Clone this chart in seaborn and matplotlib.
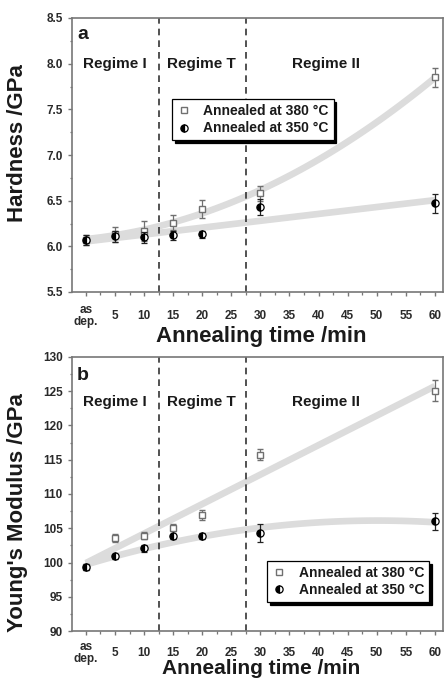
import numpy as np
import matplotlib
matplotlib.use("Agg")
import matplotlib.pyplot as plt
from matplotlib.ticker import MultipleLocator, FixedLocator
from matplotlib.lines import Line2D
import seaborn as sns

# ---------------- data ----------------
times = [0, 5, 10, 15, 20, 30, 60]
xtick_vals = [0, 5, 10, 15, 20, 25, 30, 35, 40, 45, 50, 55, 60]
xtick_labels = ["as\ndep.", "5", "10", "15", "20", "25", "30", "35", "40", "45", "50", "55", "60"]

hard_380 = [6.07, 6.13, 6.17, 6.26, 6.41, 6.58, 7.85]
hard_380_err = [0.05, 0.08, 0.11, 0.08, 0.10, 0.08, 0.10]
hard_350 = [6.07, 6.11, 6.10, 6.12, 6.13, 6.43, 6.47]
hard_350_err = [0.05, 0.06, 0.06, 0.05, 0.04, 0.09, 0.10]

mod_380 = [99.4, 103.6, 103.9, 105.1, 106.9, 115.7, 125.1]
mod_380_err = [0.4, 0.6, 0.5, 0.5, 0.7, 0.8, 1.5]
mod_350 = [99.3, 100.9, 102.1, 103.8, 103.9, 104.3, 106.0]
mod_350_err = [0.4, 0.4, 0.5, 0.4, 0.4, 1.3, 1.2]

regime_labels = ["Regime I", "Regime T", "Regime II"]
regime_x = [5.0, 19.9, 41.2]
regime_bounds = [12.5, 27.5]
legend_labels = ["Annealed at 380 \u00b0C", "Annealed at 350 \u00b0C"]

# ---------------- style ----------------
sns.set_style("ticks")
plt.rcParams["font.family"] = ["Liberation Sans", "DejaVu Sans"]
plt.rcParams["font.weight"] = "bold"

W, H = 444, 683
fig = plt.figure(figsize=(W / 100, H / 100), dpi=100)

def frac_axes(top_px, bot_px, left_px=72, right_px=443):
    return fig.add_axes([left_px / W, (H - bot_px) / H,
                         (right_px - left_px) / W, (bot_px - top_px) / H])

ax1 = frac_axes(18, 292)
ax2 = frac_axes(357, 631)

fit_color = "#dcdcdc"
sq_edge = "#707070"
text_col = "#1a1a1a"
spine_col = "#777777"


def draw_panel(ax, y380, e380, y350, e350, ord380, ord350, ylim, ymaj, ymin,
               ylabel, letter, regime_y, leg_kw, ylab_y, xlab_y, xlab_size, xpad):
    # fitted trend curves (seaborn regression)
    sns.regplot(x=np.array(times, float), y=np.array(y380, float), order=ord380,
                ci=None, scatter=False, truncate=True, ax=ax,
                line_kws=dict(color=fit_color, lw=4.8, solid_capstyle="butt", zorder=1))
    sns.regplot(x=np.array(times, float), y=np.array(y350, float), order=ord350,
                ci=None, scatter=False, truncate=True, ax=ax,
                line_kws=dict(color=fit_color, lw=4.8, solid_capstyle="butt", zorder=1))
    # data with error bars
    ax.errorbar(times, y380, yerr=e380, fmt="s", ms=4.6, mfc="white", mec=sq_edge,
                mew=1.0, ecolor=sq_edge, elinewidth=0.9, capsize=2.2, capthick=0.9,
                zorder=4)
    ax.errorbar(times, y350, yerr=e350, fmt="o", ms=5.2, fillstyle="left",
                mfc="black", mfcalt="white", mec="black", mew=0.9, ecolor="#222222",
                elinewidth=0.9, capsize=2.2, capthick=0.9, zorder=5)
    # regime boundaries
    for xb in regime_bounds:
        ax.axvline(xb, color="#333333", lw=1.2, ls=(0, (4, 3)), zorder=2)
    for lab, xr in zip(regime_labels, regime_x):
        ax.text(xr, regime_y, lab, ha="center", va="center", fontsize=11,
                fontweight="bold", color=text_col)
    ax.text(0.014, letter[1], letter[0], transform=ax.transAxes, ha="left",
            va="baseline", fontsize=14, fontweight="bold", color=text_col)

    ax.set_xlim(-2.4, 61.4)
    ax.set_ylim(*ylim)
    ax.xaxis.set_major_locator(FixedLocator(xtick_vals))
    ax.set_xticklabels(xtick_labels)
    ax.xaxis.set_minor_locator(MultipleLocator(2.5))
    ax.yaxis.set_major_locator(MultipleLocator(ymaj))
    ax.yaxis.set_minor_locator(MultipleLocator(ymin))
    ax.tick_params(axis="both", which="major", direction="out", length=3,
                   width=1.0, color=spine_col, labelsize=8.5, labelcolor="#2a2a2a")
    ax.tick_params(axis="both", which="minor", direction="out", length=1.8,
                   width=0.9, color=spine_col)
    ax.tick_params(axis="x", which="major", pad=xpad)
    for t in ax.get_xticklabels():
        t.set_fontweight("bold")
        t.set_va("center")
        t.set_linespacing(1.0)
    for t in ax.get_yticklabels():
        t.set_fontweight("bold")
    for s in ax.spines.values():
        s.set_color(spine_col)
        s.set_linewidth(1.2)
        s.set_visible(True)

    ax.set_xlabel("Annealing time /min", fontsize=xlab_size, fontweight="bold", color=text_col)
    ax.xaxis.set_label_coords(0.51, xlab_y)
    ax.set_ylabel(ylabel, fontsize=16, fontweight="bold", color=text_col)
    ax.yaxis.set_label_coords(-0.118, ylab_y)

    handles = [Line2D([], [], marker="s", ls="none", ms=4.6, mfc="white", mec=sq_edge, mew=1.0),
               Line2D([], [], marker="o", ls="none", ms=5.2, fillstyle="left", mfc="black",
                      mfcalt="white", mec="black", mew=0.9)]
    leg = ax.legend(handles, legend_labels, fontsize=10, frameon=True, fancybox=False,
                    edgecolor="black", framealpha=1, borderaxespad=0,
                    shadow={"color": "black", "alpha": 1}, handlelength=1.0,
                    handletextpad=0.9, labelspacing=0.25, borderpad=0.35,
                    **leg_kw)
    leg.get_frame().set_linewidth(0.9)
    for t in leg.get_texts():
        t.set_fontweight("bold")
        t.set_color(text_col)
    leg.set_zorder(10)


draw_panel(ax1, hard_380, hard_380_err, hard_350, hard_350_err, 2, 1,
           (5.5, 8.5), 0.5, 0.25, "Hardness /GPa", ("a", 0.923), 8.0,
           dict(loc="upper left", bbox_to_anchor=(0.27, 0.704)), 0.544, -0.125, 16, 14)
draw_panel(ax2, mod_380, mod_380_err, mod_350, mod_350_err, 1, 2,
           (90, 130), 5, 2.5, "Young's Modulus /GPa", ("b", 0.916), 123.4,
           dict(loc="lower right", bbox_to_anchor=(0.962, 0.106)), 0.434, -0.104, 15, 12.5)

fig.savefig("out.png", dpi=100)
